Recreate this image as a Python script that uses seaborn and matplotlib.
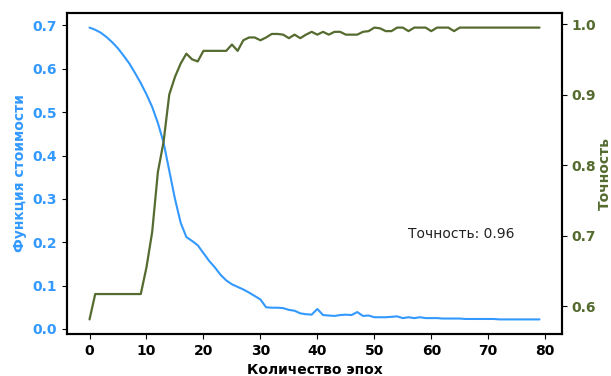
import numpy as np
import pandas as pd
import matplotlib
matplotlib.use("Agg")
import matplotlib.pyplot as plt
import seaborn as sns

# значения
loss = [0.695, 0.690, 0.683, 0.673, 0.661, 0.647, 0.630, 0.612, 0.590, 0.567,
        0.541, 0.512, 0.475, 0.430, 0.365, 0.300, 0.245, 0.212, 0.203, 0.193,
        0.175, 0.157, 0.142, 0.125, 0.112, 0.103, 0.097, 0.091, 0.084, 0.076,
        0.068, 0.050, 0.049, 0.049, 0.048, 0.044, 0.042, 0.036, 0.034, 0.033,
        0.046, 0.032, 0.031, 0.030, 0.032, 0.033, 0.032, 0.039, 0.030, 0.031,
        0.027, 0.027, 0.027, 0.028, 0.029, 0.025, 0.027, 0.025, 0.027, 0.025,
        0.025, 0.025, 0.024, 0.024, 0.024, 0.024, 0.023, 0.023, 0.023, 0.023,
        0.023, 0.023, 0.022, 0.022, 0.022, 0.022, 0.022, 0.022, 0.022, 0.022]

accuracy = [0.581, 0.617, 0.617, 0.617, 0.617, 0.617, 0.617, 0.617, 0.617, 0.617,
            0.655, 0.705, 0.790, 0.833, 0.900, 0.925, 0.944, 0.958, 0.950, 0.947,
            0.962, 0.962, 0.962, 0.962, 0.962, 0.971, 0.962, 0.977, 0.981, 0.981,
            0.977, 0.981, 0.986, 0.986, 0.985, 0.980, 0.985, 0.980, 0.985, 0.989,
            0.985, 0.989, 0.985, 0.989, 0.989, 0.985, 0.985, 0.985, 0.989, 0.990,
            0.995, 0.994, 0.990, 0.990, 0.995, 0.995, 0.990, 0.995, 0.995, 0.995,
            0.990, 0.995, 0.995, 0.995, 0.990, 0.995, 0.995, 0.995, 0.995, 0.995,
            0.995, 0.995, 0.995, 0.995, 0.995, 0.995, 0.995, 0.995, 0.995, 0.995]

epochs = list(range(len(loss)))
final_acc = 0.96

df = pd.DataFrame({"epoch": epochs, "loss": loss, "accuracy": accuracy})

sns.set_style("ticks", {"axes.edgecolor": "black", "xtick.color": "black",
                        "ytick.color": "black", "text.color": "black",
                        "axes.labelcolor": "black"})
plt.rcParams['font.family'] = ['DejaVu Sans']

loss_color = "#3399ff"
acc_color = "#556b2f"

fig, ax = plt.subplots(figsize=(6.11, 3.76), dpi=100)
fig.subplots_adjust(left=0.1097, right=0.9198, top=0.9654, bottom=0.1117)

sns.lineplot(data=df, x="epoch", y="loss", ax=ax, color=loss_color, linewidth=1.5)
ax.set_xlabel("Количество эпох", fontsize=10, fontweight="bold")
ax.set_ylabel("Функция стоимости", fontsize=10, fontweight="bold", color=loss_color)
ax.tick_params(axis="y", labelcolor=loss_color, labelsize=10)
ax.tick_params(axis="x", labelsize=10)
for lbl in ax.get_xticklabels() + ax.get_yticklabels():
    lbl.set_fontweight("bold")

ax.text(56, 0.21, f"Точность: {final_acc}", fontsize=10, color="#222222")

ax2 = ax.twinx()
sns.lineplot(data=df, x="epoch", y="accuracy", ax=ax2, color=acc_color, linewidth=1.6)
ax2.set_ylabel("Точность", fontsize=10, fontweight="bold", color=acc_color, labelpad=1)
ax2.tick_params(axis="y", labelcolor=acc_color, labelsize=10)
for lbl in ax2.get_yticklabels():
    lbl.set_fontweight("bold")

for a in (ax, ax2):
    for s in a.spines.values():
        s.set_linewidth(1.5)
        s.set_color("black")
        s.set_visible(True)

fig.savefig("out.png", dpi=100)
